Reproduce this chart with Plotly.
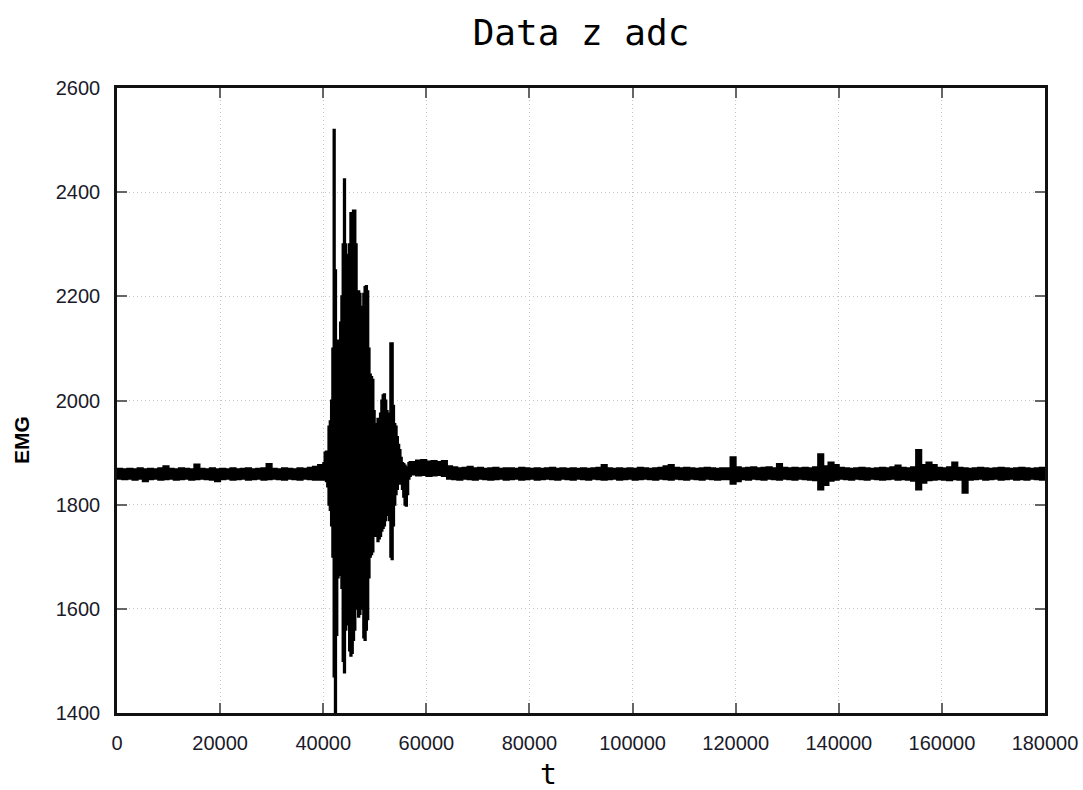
import plotly.graph_objects as go

# ---- data (t = sample index, EMG = ADC value) ----
# quiet segment before the burst: upper / lower edge of the noise band
pre_t = [0, 1000, 2000, 3000, 4000, 5000, 6000, 7000, 8000, 9000,
         10000, 11000, 12000, 13000, 14000, 15000, 16000, 17000, 18000, 19000,
         20000, 21000, 22000, 23000, 24000, 25000, 26000, 27000, 28000, 29000,
         30000, 31000, 32000, 33000, 34000, 35000, 36000, 37000, 38000, 39000]
pre_hi = [1869, 1868, 1869, 1868, 1870, 1868, 1869, 1868, 1870, 1874,
          1869, 1868, 1870, 1869, 1868, 1877, 1869, 1868, 1870, 1868,
          1869, 1868, 1870, 1868, 1869, 1870, 1868, 1869, 1870, 1878,
          1869, 1868, 1870, 1869, 1868, 1870, 1869, 1871, 1873, 1876]
pre_lo = [1850, 1849, 1850, 1848, 1850, 1845, 1849, 1850, 1848, 1849,
          1850, 1848, 1849, 1850, 1848, 1849, 1850, 1849, 1848, 1845,
          1849, 1850, 1848, 1849, 1850, 1848, 1849, 1850, 1848, 1849,
          1850, 1849, 1848, 1850, 1849, 1848, 1850, 1849, 1848, 1848]

# muscle activation burst
burst_t = [40000, 40250, 40500, 40750, 41000, 41250, 41500, 41750, 42000, 42250,
           42500, 42750, 43000, 43250, 43500, 43750, 44000, 44250, 44500, 44750,
           45000, 45250, 45500, 45750, 46000, 46250, 46500, 46750, 47000, 47250,
           47500, 47750, 48000, 48250, 48500, 48750, 49000, 49250, 49500, 49750,
           50000, 50250, 50500, 50750, 51000, 51250, 51500, 51750, 52000, 52250,
           52500, 52750, 53000, 53250, 53500, 53750, 54000, 54250, 54500, 54750,
           55000, 55250, 55500, 55750, 56000, 56250, 56500, 56750, 57000]
burst_hi = [1880, 1900, 1902, 1890, 1950, 1960, 2000, 2100, 2520, 2250,
            2110, 2115, 2110, 2150, 2200, 2300, 2425, 2300, 2280, 2220,
            2300, 2360, 2350, 2365, 2365, 2300, 2200, 2210, 2205, 2180,
            2170, 2205, 2218, 2220, 2210, 2100, 2050, 2045, 2040, 1980,
            1955, 1950, 1965, 1960, 1975, 2000, 2010, 2012, 2000, 1980,
            1970, 1975, 2110, 2110, 1990, 1955, 1950, 1930, 1915, 1905,
            1890, 1880, 1878, 1875, 1870, 1872, 1880, 1882, 1882]
burst_lo = [1850, 1848, 1845, 1835, 1800, 1790, 1760, 1700, 1470, 1390,
            1550, 1660, 1665, 1680, 1640, 1500, 1478, 1560, 1570, 1600,
            1520, 1510, 1515, 1540, 1560, 1600, 1620, 1585, 1590, 1610,
            1600, 1545, 1540, 1560, 1580, 1660, 1700, 1705, 1710, 1740,
            1745, 1740, 1730, 1735, 1740, 1750, 1755, 1760, 1770, 1780,
            1785, 1770, 1700, 1695, 1760, 1800, 1820, 1830, 1840, 1845,
            1840, 1830, 1815, 1800, 1798, 1820, 1850, 1855, 1858]

# quiet segment after the burst
post_t = [58000, 59000, 60000, 61000, 62000, 63000, 64000, 65000, 66000, 67000,
          68000, 69000, 70000, 71000, 72000, 73000, 74000, 75000, 76000, 77000,
          78000, 79000, 80000, 81000, 82000, 83000, 84000, 85000, 86000, 87000,
          88000, 89000, 90000, 91000, 92000, 93000, 94000, 95000, 96000, 97000,
          98000, 99000, 100000, 101000, 102000, 103000, 104000, 105000, 106000, 107000,
          108000, 109000, 110000, 111000, 112000, 113000, 114000, 115000, 116000, 117000,
          118000, 119000, 120000, 121000, 122000, 123000, 124000, 125000, 126000, 127000,
          128000, 129000, 130000, 131000, 132000, 133000, 134000, 135000, 136000, 137000,
          138000, 139000, 140000, 141000, 142000, 143000, 144000, 145000, 146000, 147000,
          148000, 149000, 150000, 151000, 152000, 153000, 154000, 155000, 156000, 157000,
          158000, 159000, 160000, 161000, 162000, 163000, 164000, 165000, 166000, 167000,
          168000, 169000, 170000, 171000, 172000, 173000, 174000, 175000, 176000, 177000,
          178000, 179000, 180000]
post_hi = [1885, 1886, 1883, 1884, 1882, 1884, 1874, 1872, 1870, 1871,
           1873, 1870, 1871, 1869, 1870, 1871, 1869, 1870, 1870, 1869,
           1871, 1870, 1869, 1870, 1869, 1870, 1871, 1869, 1870, 1869,
           1870, 1869, 1870, 1869, 1870, 1871, 1876, 1870, 1869, 1870,
           1869, 1870, 1869, 1871, 1870, 1869, 1870, 1871, 1874, 1876,
           1871, 1870, 1871, 1870, 1869, 1870, 1871, 1870, 1869, 1870,
           1870, 1891, 1872, 1870, 1871, 1872, 1870, 1871, 1872, 1870,
           1878, 1871, 1870, 1871, 1870, 1871, 1870, 1872, 1897, 1874,
           1881, 1876, 1871, 1870, 1869, 1870, 1871, 1870, 1869, 1870,
           1871, 1870, 1872, 1875, 1871, 1870, 1872, 1905, 1876, 1881,
           1876, 1871, 1870, 1872, 1881, 1871, 1870, 1869, 1870, 1871,
           1870, 1869, 1870, 1871, 1870, 1869, 1870, 1871, 1870, 1869,
           1870, 1871, 1870]
post_lo = [1856, 1857, 1855, 1856, 1857, 1855, 1850, 1849, 1848, 1850,
           1849, 1848, 1850, 1849, 1848, 1849, 1850, 1848, 1849, 1850,
           1848, 1849, 1850, 1848, 1849, 1850, 1849, 1848, 1850, 1849,
           1848, 1850, 1849, 1848, 1850, 1849, 1848, 1849, 1850, 1848,
           1849, 1850, 1848, 1849, 1850, 1849, 1848, 1850, 1849, 1848,
           1850, 1849, 1848, 1850, 1849, 1848, 1850, 1849, 1848, 1849,
           1849, 1840, 1845, 1849, 1848, 1850, 1849, 1848, 1850, 1849,
           1848, 1850, 1849, 1848, 1850, 1849, 1848, 1847, 1829, 1838,
           1846, 1848, 1850, 1849, 1848, 1850, 1849, 1848, 1850, 1849,
           1848, 1849, 1850, 1848, 1849, 1848, 1846, 1829, 1842, 1847,
           1848, 1849, 1848, 1847, 1849, 1848, 1823, 1848, 1849, 1850,
           1848, 1849, 1850, 1848, 1849, 1850, 1848, 1849, 1848, 1850,
           1849, 1848, 1849]

x_ticks = [0, 20000, 40000, 60000, 80000, 100000, 120000, 140000, 160000, 180000]
y_ticks = [1400, 1600, 1800, 2000, 2200, 2400, 2600]

title_text = "Data z adc"
x_title = "t"
y_title = "EMG"

# ---- assemble ----
t_all = pre_t + burst_t + post_t
hi_all = pre_hi + burst_hi + post_hi
lo_all = pre_lo + burst_lo + post_lo
assert len(t_all) == len(hi_all) == len(lo_all)

fig = go.Figure()
fig.add_trace(go.Scatter(x=t_all, y=lo_all, mode="lines",
                         line=dict(color="black", width=2, shape="hv"),
                         hoverinfo="skip", showlegend=False))
fig.add_trace(go.Scatter(x=t_all, y=hi_all, mode="lines",
                         line=dict(color="black", width=2, shape="hv"),
                         fill="tonexty", fillcolor="black",
                         showlegend=False))

axis_common = dict(
    showline=True, linecolor="#111", linewidth=2.5, mirror="ticks",
    ticks="inside", ticklen=10, tickwidth=2, tickcolor="#666",
    showgrid=True, gridcolor="#c4c4c4", griddash="1px,3px", gridwidth=1,
    zeroline=False, ticklabelstandoff=10, automargin=False,
    tickfont=dict(family="Liberation Sans, Arial, sans-serif", size=20, color="#1a1a2a"),
)

fig.update_xaxes(range=[0, 180000], tickvals=x_ticks,
                 ticktext=[str(v) for v in x_ticks], **axis_common)
fig.update_yaxes(range=[1400, 2600], tickvals=y_ticks,
                 ticktext=[str(v) for v in y_ticks], **axis_common)

W, H = 1083, 790
fig.update_layout(
    width=W, height=H,
    margin=dict(l=117, r=38, t=88, b=77, autoexpand=False),
    paper_bgcolor="white", plot_bgcolor="white",
    title=dict(text=title_text, x=0.5, xref="paper", xanchor="center",
               y=1 - 32 / H, yref="container", yanchor="middle",
               font=dict(family="DejaVu Sans Mono, monospace", size=36, color="black")),
    annotations=[
        dict(text=x_title, xref="paper", yref="paper",
             x=(548 - 117) / 928, y=-(774 - 713) / 625,
             xanchor="center", yanchor="middle", showarrow=False,
             font=dict(family="DejaVu Sans Mono, monospace", size=28, color="black")),
        dict(text="<b>" + y_title + "</b>", xref="paper", yref="paper",
             x=-(117 - 22) / 928, y=(713 - 440) / 625, textangle=-90,
             xanchor="center", yanchor="middle", showarrow=False,
             font=dict(family="Liberation Sans, Arial, sans-serif", size=21, color="black")),
    ],
)

# remove the default page margin so the figure sits at the window's top-left corner
fig.write_html("out.html",
               config={"displayModeBar": False},
               post_script="document.body.style.margin='0';document.body.style.overflow='hidden';")
